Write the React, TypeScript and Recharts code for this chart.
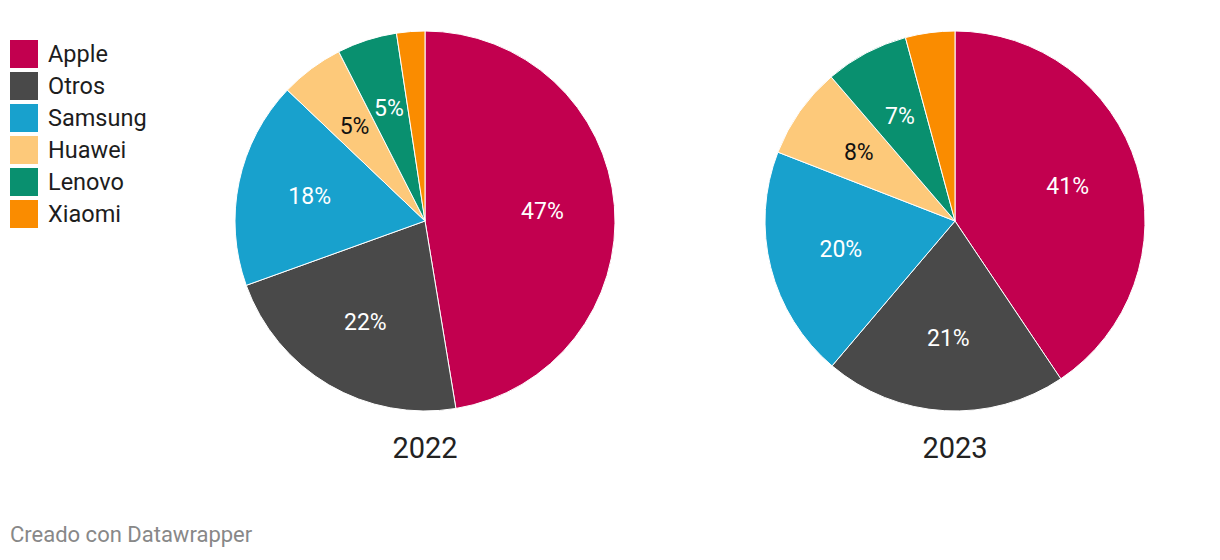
import { PieChart, Pie, Cell } from 'recharts'

const brands = ['Apple', 'Otros', 'Samsung', 'Huawei', 'Lenovo', 'Xiaomi']
const colors = ['#c2004f', '#494949', '#18a1cd', '#fdc97a', '#09906f', '#fa8c00']
const labelColors = ['#ffffff', '#ffffff', '#ffffff', '#111111', '#ffffff', '#ffffff']
const share2022 = [47.4, 22.1, 17.6, 5.4, 5.1, 2.4]
const share2023 = [40.6, 20.6, 19.7, 7.8, 7.1, 4.2]
const years = ['2022', '2023']

const FONT = 'Roboto, "Noto Sans", sans-serif'
const RADIAN = Math.PI / 180

const toRows = (values: number[]) => brands.map((name, i) => ({ name, value: values[i] }))

const renderLabel = (props: any) => {
  const { cx, cy, midAngle, outerRadius, value, index } = props
  if (value < 4.5) return null
  const r = outerRadius * 0.62
  const x = cx + r * Math.cos(-midAngle * RADIAN)
  const y = cy + r * Math.sin(-midAngle * RADIAN)
  return (
    <text
      x={x}
      y={y}
      fill={labelColors[index]}
      textAnchor="middle"
      dominantBaseline="central"
      fontSize={23}
      fontFamily={FONT}
    >
      {`${Math.round(value)}%`}
    </text>
  )
}

export default function App() {
  const pies = [
    { year: years[0], data: toRows(share2022), cx: 425 },
    { year: years[1], data: toRows(share2023), cx: 955 },
  ]

  return (
    <div style={{ position: 'absolute', left: 0, top: 0, width: 1220, height: 560, background: '#fff', fontFamily: FONT }}>
      <div style={{ position: 'absolute', left: 10, top: 40 }}>
        {brands.map((b, i) => (
          <div key={b} style={{ display: 'flex', alignItems: 'center', height: 32 }}>
            <div style={{ width: 28, height: 28, background: colors[i], marginRight: 10, marginTop: -4 }} />
            <span style={{ fontSize: 23.5, color: '#1d1d1d', marginTop: -4 }}>{b}</span>
          </div>
        ))}
      </div>
      <PieChart width={1220} height={560} margin={{ top: 0, right: 0, bottom: 0, left: 0 }} style={{ position: 'absolute', left: 0, top: 0 }}>
        {pies.map(p => (
          <Pie
            key={p.year}
            data={p.data}
            dataKey="value"
            nameKey="name"
            cx={p.cx}
            cy={221}
            outerRadius={190}
            startAngle={90}
            endAngle={-270}
            stroke="#ffffff"
            strokeWidth={1}
            label={renderLabel}
            labelLine={false}
            isAnimationActive={false}
          >
            {p.data.map((d, i) => (
              <Cell key={d.name} fill={colors[i]} />
            ))}
          </Pie>
        ))}
        {pies.map(p => (
          <text key={p.year} x={p.cx} y={448} textAnchor="middle" dominantBaseline="central" fontSize={29} fill="#222" fontFamily={FONT}>
            {p.year}
          </text>
        ))}
      </PieChart>
      <div style={{ position: 'absolute', left: 10, top: 522, fontSize: 22, color: '#888' }}>Creado con Datawrapper</div>
    </div>
  )
}
